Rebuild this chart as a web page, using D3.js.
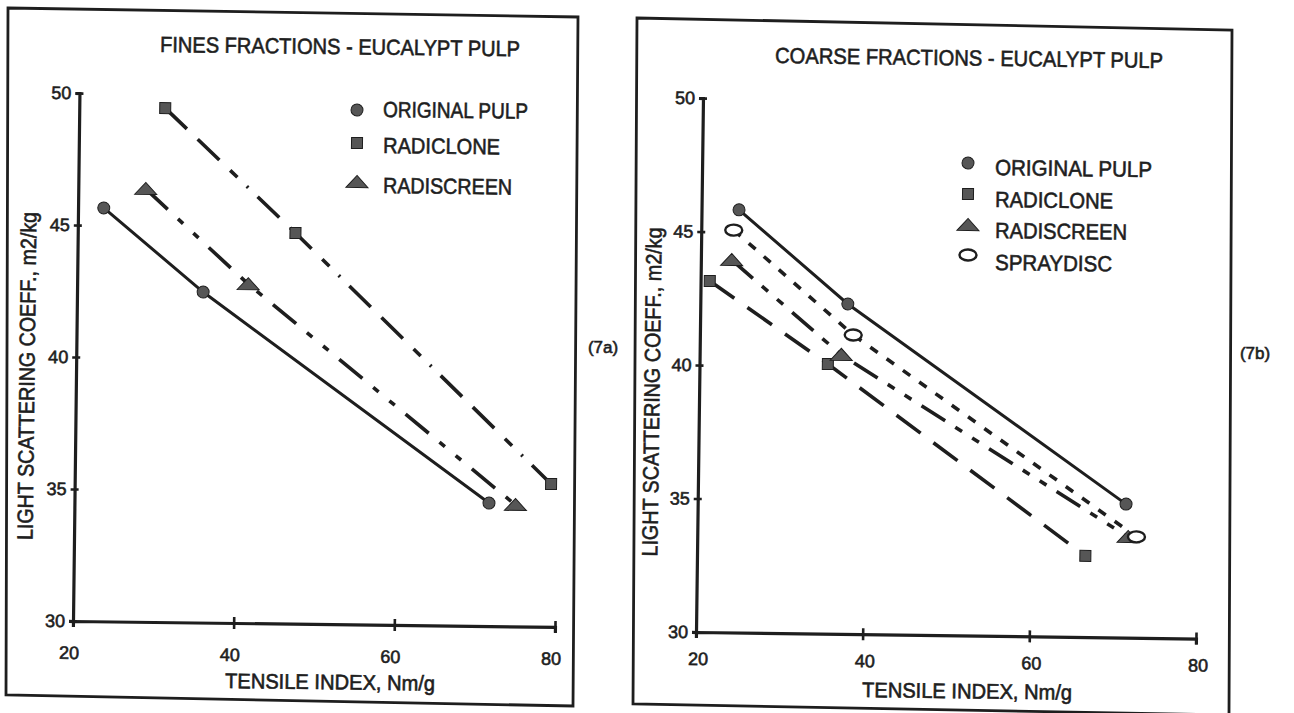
<!DOCTYPE html>
<html>
<head>
<meta charset="utf-8">
<script src="https://d3js.org/d3.v7.min.js"></script>
<style>
  body { margin: 0; background: #fff; }
  svg { display: block; font-family: "Liberation Sans", Arial, sans-serif; }
</style>
</head>
<body>
<div id="chart"></div>
<script>
const xTicks = [20, 40, 60, 80];
const yTicks = [30, 35, 40, 45, 50];
const seriesNames = ["ORIGINAL PULP", "RADICLONE", "RADISCREEN", "SPRAYDISC"];

// (7a) fines fractions
const finesOriginalX = [23.2, 35.7, 71.6];
const finesOriginalY = [45.66, 42.52, 34.66];
const finesRadicloneX = [30.7, 47.1, 79.3];
const finesRadicloneY = [49.47, 44.8, 35.41];
const finesRadiscreenX = [28.4, 41.3, 74.9];
const finesRadiscreenY = [46.4, 42.84, 34.6];

// (7b) coarse fractions
const coarseOriginalX = [24.5, 37.7, 71.4];
const coarseOriginalY = [45.83, 42.36, 35.0];
const coarseRadicloneX = [21.1, 35.4, 66.6];
const coarseRadicloneY = [43.15, 40.1, 33.04];
const coarseRadiscreenX = [23.7, 37.0, 71.7];
const coarseRadiscreenY = [43.95, 40.45, 33.77];
const coarseSpraydiscX = [23.9, 38.4, 72.7];
const coarseSpraydiscY = [45.07, 41.2, 33.78];

const ink = "#1e1e1e",
      markFill = "#565656";

const panels = [
  {
    title: "FINES FRACTIONS - EUCALYPT PULP",
    tag: "(7a)",
    series: [
      { name: seriesNames[0], x: finesOriginalX, y: finesOriginalY, dash: null },
      { name: seriesNames[1], x: finesRadicloneX, y: finesRadicloneY, dash: "30,15,30,15,10,13,2,13" },
      { name: seriesNames[2], x: finesRadiscreenX, y: finesRadiscreenY, dash: "30,14,7,14,7,14" }
    ],
    origin: [73, 621], width: 482, height: 528, angle: 0.7,
    frame: [[8, 8], [578, 17], [573, 706], [6, 695]],
    titlePos: [160, 52, 360],
    tagPos: [603, 353],
    yLabelPos: [27, 376, 328],
    xLabelPos: [225, 688, 210],
    xTickDy: 38, xTickDx: -4,
    legend: { markerX: 357, textX: 383, markerY: [110, 143, 182], baseY: [117, 153, 193], len: [145, 117, 129] }
  },
  {
    title: "COARSE FRACTIONS - EUCALYPT PULP",
    tag: "(7b)",
    series: [
      { name: seriesNames[0], x: coarseOriginalX, y: coarseOriginalY, dash: null },
      { name: seriesNames[1], x: coarseRadicloneX, y: coarseRadicloneY, dash: "30,16" },
      { name: seriesNames[2], x: coarseRadiscreenX, y: coarseRadiscreenY, dash: "28,12,8,12,8,12" },
      { name: seriesNames[3], x: coarseSpraydiscX, y: coarseSpraydiscY, dash: "9,11" }
    ],
    origin: [696, 632], width: 500, height: 534, angle: 0.75,
    frame: [[637, 18], [1232, 30], [1229, 715], [633, 704]],
    titlePos: [775, 63, 388],
    tagPos: [1255, 359],
    yLabelPos: [652, 392, 329],
    xLabelPos: [862, 697, 210],
    xTickDy: 33, xTickDx: 2,
    legend: { markerX: 968, textX: 995, markerY: [163, 194, 225, 255], baseY: [175, 207, 238, 270], len: [157, 118, 132, 117] }
  }
];

const svg = d3.select("#chart").append("svg")
    .attr("width", 1294)
    .attr("height", 713);

function drawMarker(g, name){
    if(name === "ORIGINAL PULP"){
        g.append("circle").attr("r", 6).attr("fill", markFill).attr("stroke", ink).attr("stroke-width", 1);
    }
    else if(name === "RADICLONE"){
        g.append("rect").attr("x", -5.5).attr("y", -5.5).attr("width", 11).attr("height", 11)
          .attr("fill", markFill).attr("stroke", ink).attr("stroke-width", 1);
    }
    else if(name === "RADISCREEN"){
        g.append("path").attr("d", "M-11,5.5 L11,5.5 L0,-6.5 Z")
          .attr("fill", markFill).attr("stroke", ink).attr("stroke-width", 1);
    }
    else {
        g.append("ellipse").attr("rx", 8.5).attr("ry", 5.5)
          .attr("fill", "#fff").attr("stroke", ink).attr("stroke-width", 2.4);
    }
}

function label(x, y, angle, text, size, len, anchor){
    const t = svg.append("text")
      .attr("transform", `translate(${x},${y}) rotate(${angle})`)
      .attr("font-size", size)
      .attr("fill", ink)
      .attr("stroke", ink)
      .attr("stroke-width", 0.6)
      .attr("text-anchor", anchor || "start")
      .text(text);
    if(len){
        t.attr("textLength", len).attr("lengthAdjust", "spacingAndGlyphs");
    }
    return t;
}

panels.forEach(function(p){
    // scanned frame, a little skewed
    svg.append("path")
      .attr("d", "M" + p.frame.map(c => c.join(",")).join("L") + "Z")
      .attr("fill", "none")
      .attr("stroke", ink)
      .attr("stroke-width", 2.8);

    const x = d3.scaleLinear().domain([20, 80]).range([0, p.width]),
          y = d3.scaleLinear().domain([30, 50]).range([0, -p.height]);

    const plot = svg.append("g")
      .attr("transform", `translate(${p.origin[0]},${p.origin[1]}) rotate(${p.angle})`);

    const xAxis = plot.append("g")
      .call(d3.axisBottom(x).tickValues(xTicks).tickSizeOuter(0).tickSize(6).tickFormat(d3.format("d")));
    xAxis.selectAll(".tick line").attr("y1", -6).attr("y2", 6);
    xAxis.selectAll(".tick text")
      .attr("y", p.xTickDy).attr("dy", 0).attr("dx", p.xTickDx);

    const yAxis = plot.append("g")
      .call(d3.axisLeft(y).tickValues(yTicks).tickSizeOuter(0).tickSize(4).tickFormat(d3.format("d")));
    yAxis.selectAll(".tick line").attr("x1", -4).attr("x2", 4);
    yAxis.selectAll(".tick text").attr("x", -8);

    plot.selectAll(".domain")
      .attr("stroke", ink)
      .attr("stroke-width", 3.2);
    plot.selectAll(".tick line")
      .attr("stroke", ink)
      .attr("stroke-width", 2.6);
    plot.selectAll(".tick text")
      .attr("font-size", 18)
      .attr("fill", ink)
      .attr("stroke", ink)
      .attr("stroke-width", 0.6)
      .attr("font-family", "'Liberation Sans', Arial, sans-serif");

    const line = d3.line()
      .x(d => x(d[0]))
      .y(d => y(d[1]));

    p.series.forEach(function(s){
        plot.append("path")
          .datum(d3.zip(s.x, s.y))
          .attr("d", line)
          .attr("fill", "none")
          .attr("stroke", ink)
          .attr("stroke-width", s.dash ? 3.6 : 3)
          .attr("stroke-dasharray", s.dash);
    });

    p.series.forEach(function(s){
        plot.selectAll(null)
          .data(d3.zip(s.x, s.y))
          .join("g")
            .attr("transform", d => `translate(${x(d[0])},${y(d[1])})`)
            .each(function(){ drawMarker(d3.select(this), s.name); });
    });

    label(p.titlePos[0], p.titlePos[1], p.angle, p.title, 22, p.titlePos[2]);
    label(p.xLabelPos[0], p.xLabelPos[1], p.angle, "TENSILE INDEX, Nm/g", 21, p.xLabelPos[2]);
    label(p.yLabelPos[0], p.yLabelPos[1], p.angle - 90, "LIGHT SCATTERING COEFF., m2/kg", 22, p.yLabelPos[2], "middle")
      .attr("dominant-baseline", "central");
    label(p.tagPos[0], p.tagPos[1], 0, p.tag, 17, null, "middle");

    p.series.forEach(function(s, i){
        const lg = p.legend;
        const m = svg.append("g")
          .attr("transform", `translate(${lg.markerX},${lg.markerY[i]}) rotate(${p.angle})`);
        drawMarker(m, s.name);
        label(lg.textX, lg.baseY[i], p.angle, s.name, 22, lg.len[i]);
    });
});
</script>
</body>
</html>
